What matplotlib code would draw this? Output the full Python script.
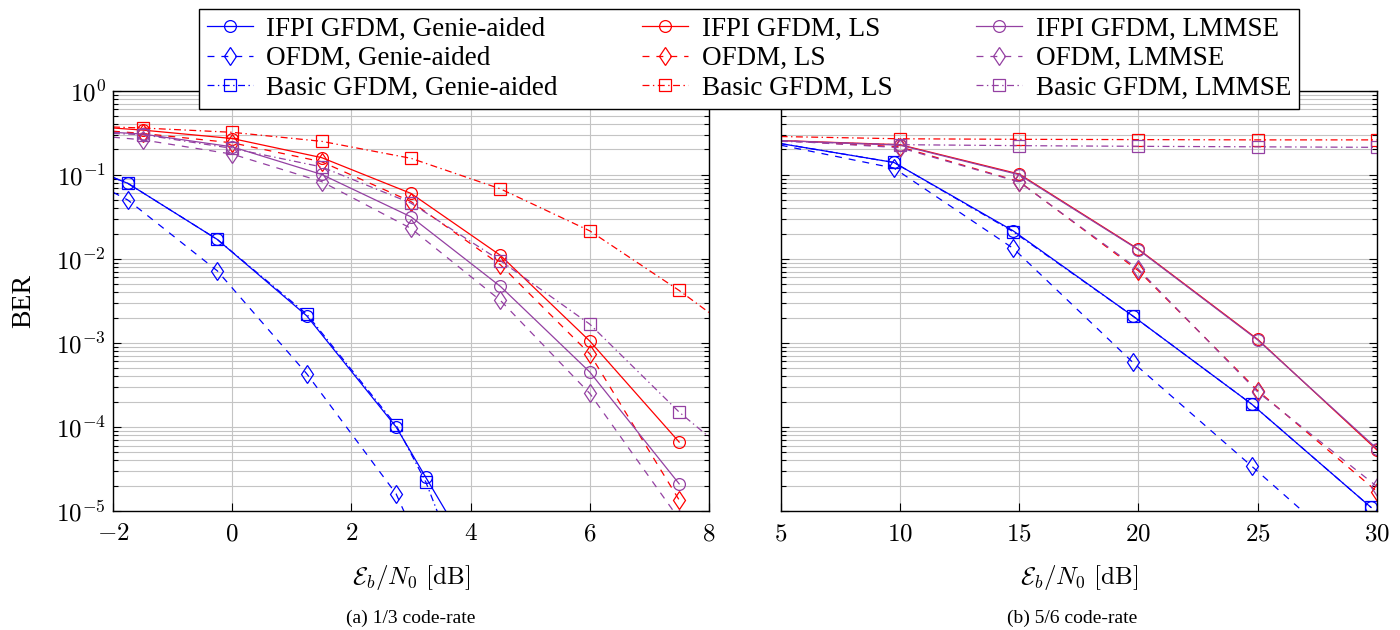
import numpy as np
import matplotlib
matplotlib.use('Agg')
import matplotlib.pyplot as plt
from matplotlib.ticker import FixedLocator, FuncFormatter, LogLocator, NullFormatter

# ======================== fonts ========================
plt.rcParams['font.family'] = ['Liberation Serif', 'DejaVu Serif']
plt.rcParams['mathtext.fontset'] = 'cm'
plt.rcParams['lines.scale_dashes'] = False

# ======================== data ========================
# (a) 1/3 code-rate
x_a_gen = [-2, -1.75, -0.25, 1.25, 2.75, 3.25, 3.75]
ifpi_gen_a = [0.093, 0.079, 0.017, 0.0021, 1.0e-4, 2.5e-5, 6.3e-6]
ofdm_gen_a = [0.062, 0.050, 0.0072, 4.3e-4, 1.6e-5, 2.6e-6, 4e-7]
basic_gen_a = [0.093, 0.079, 0.017, 0.0022, 1.05e-4, 2.2e-5, 2.7e-6]

x_a = [-2, -1.5, 0, 1.5, 3, 4.5, 6, 7.5, 8]
ifpi_ls_a = [0.36, 0.34, 0.27, 0.16, 0.060, 0.011, 1.05e-3, 6.6e-5, np.nan]
ofdm_ls_a = [0.33, 0.31, 0.24, 0.143, 0.048, 0.0085, 7.4e-4, 1.35e-5, np.nan]
basic_ls_a = [0.37, 0.36, 0.32, 0.25, 0.157, 0.068, 0.0215, 0.0042, 0.0023]
ifpi_lmmse_a = [0.32, 0.305, 0.215, 0.101, 0.0316, 0.0047, 4.5e-4, 2.1e-5, np.nan]
ofdm_lmmse_a = [0.28, 0.26, 0.176, 0.083, 0.023, 0.0032, 2.5e-4, 8e-6, np.nan]
basic_lmmse_a = [0.31, 0.30, 0.206, 0.124, 0.046, 0.0095, 1.67e-3, 1.5e-4, 7.6e-5]

# (b) 5/6 code-rate
x_b_gen = [5, 9.75, 14.75, 19.75, 24.75, 29.75]
ifpi_gen_b = [0.235, 0.14, 0.0215, 0.0021, 1.86e-4, 1.1e-5]
ofdm_gen_b = [0.225, 0.12, 0.0133, 5.9e-4, 3.4e-5, 1.9e-6]
basic_gen_b = [0.235, 0.14, 0.021, 0.0021, 1.86e-4, 1.1e-5]

x_b = [5, 10, 15, 20, 25, 30]
ifpi_ls_b = [0.255, 0.228, 0.102, 0.013, 0.0011, 5.3e-5]
ofdm_ls_b = [0.255, 0.215, 0.083, 0.0072, 2.7e-4, 1.7e-5]
basic_ls_b = [0.285, 0.268, 0.264, 0.262, 0.26, 0.26]
ifpi_lmmse_b = [0.255, 0.225, 0.100, 0.0128, 0.00108, 5.5e-5]
ofdm_lmmse_b = [0.255, 0.21, 0.082, 0.0075, 2.6e-4, 1.95e-5]
basic_lmmse_b = [0.25, 0.228, 0.222, 0.218, 0.215, 0.212]

labels = ['IFPI GFDM, Genie-aided', 'OFDM, Genie-aided', 'Basic GFDM, Genie-aided',
          'IFPI GFDM, LS', 'OFDM, LS', 'Basic GFDM, LS',
          'IFPI GFDM, LMMSE', 'OFDM, LMMSE', 'Basic GFDM, LMMSE']

x_ticks_a = [-2, 0, 2, 4, 6, 8]
x_ticks_b = [5, 10, 15, 20, 25, 30]

BLUE = '#0000ff'
RED = '#ff0000'
PURPLE = '#9440a2'

# line style / marker per scheme
STYLE = {
    'ifpi': dict(linestyle='-', marker='o', markersize=8.5),
    'ofdm': dict(linestyle=(0, (5, 5)), marker='d', markersize=9.5),
    'basic': dict(linestyle=(0, (5, 2.5, 1, 2.5)), marker='s', markersize=8),
}


def draw(ax, x, y, color, kind, markevery, label=None):
    ax.plot(x, y, color=color, lw=0.9, markerfacecolor='none', markeredgecolor=color,
            markeredgewidth=0.9, markevery=markevery, label=label, **STYLE[kind])


def style_axis(ax, xlim, xticks, show_ylabels):
    ax.set_yscale('log')
    ax.set_ylim(1e-5, 1)
    ax.set_xlim(*xlim)
    ax.xaxis.set_major_locator(FixedLocator(xticks))
    ax.xaxis.set_major_formatter(FuncFormatter(lambda v, p: r'$%g$' % v))
    ax.yaxis.set_major_locator(LogLocator(base=10, numticks=10))
    ax.yaxis.set_minor_locator(LogLocator(base=10, subs=np.arange(2, 10), numticks=20))
    ax.yaxis.set_minor_formatter(NullFormatter())
    ax.yaxis.set_major_formatter(FuncFormatter(lambda v, p: r'$10^{%d}$' % round(np.log10(v))))
    ax.grid(True, which='major', color='#c4c4c4', lw=0.8)
    ax.grid(True, which='minor', axis='y', color='#c4c4c4', lw=0.8)
    ax.set_axisbelow(True)
    ax.tick_params(which='both', direction='in', top=True, right=True, labelsize=18)
    ax.tick_params(which='major', length=6, width=0.8)
    ax.tick_params(axis='x', which='major', pad=9)
    ax.tick_params(axis='y', which='major', pad=5)
    ax.tick_params(which='minor', length=3.5, width=0.8)
    if not show_ylabels:
        ax.tick_params(labelleft=False)
    for s in ax.spines.values():
        s.set_linewidth(1.0)
    ax.set_xlabel(r'$\mathcal{E}_b/N_0\ [\mathrm{dB}]$', fontsize=18, labelpad=13)


fig = plt.figure(figsize=(14, 6.3), dpi=100)
ax1 = fig.add_axes([0.0807, 0.189, 0.4257, 0.667])
ax2 = fig.add_axes([0.5576, 0.189, 0.4260, 0.667])

# ---- (a) ----
mk_gen = list(range(1, 7))
mk = list(range(1, 8))
draw(ax1, x_a_gen, ifpi_gen_a, BLUE, 'ifpi', mk_gen, labels[0])
draw(ax1, x_a_gen, ofdm_gen_a, BLUE, 'ofdm', mk_gen, labels[1])
draw(ax1, x_a_gen, basic_gen_a, BLUE, 'basic', mk_gen, labels[2])
draw(ax1, x_a, ifpi_ls_a, RED, 'ifpi', mk, labels[3])
draw(ax1, x_a, ofdm_ls_a, RED, 'ofdm', mk, labels[4])
draw(ax1, x_a, basic_ls_a, RED, 'basic', mk, labels[5])
draw(ax1, x_a, ifpi_lmmse_a, PURPLE, 'ifpi', mk, labels[6])
draw(ax1, x_a, ofdm_lmmse_a, PURPLE, 'ofdm', mk, labels[7])
draw(ax1, x_a, basic_lmmse_a, PURPLE, 'basic', mk, labels[8])
style_axis(ax1, (-2, 8), x_ticks_a, True)
ax1.set_ylabel('BER', fontsize=20, labelpad=14)

# ---- (b) ----
mk_b = list(range(1, 6))
draw(ax2, x_b_gen, ifpi_gen_b, BLUE, 'ifpi', mk_b)
draw(ax2, x_b_gen, ofdm_gen_b, BLUE, 'ofdm', mk_b)
draw(ax2, x_b_gen, basic_gen_b, BLUE, 'basic', mk_b)
draw(ax2, x_b, ifpi_ls_b, RED, 'ifpi', mk_b)
draw(ax2, x_b, ofdm_ls_b, RED, 'ofdm', mk_b)
draw(ax2, x_b, basic_ls_b, RED, 'basic', mk_b)
draw(ax2, x_b, ifpi_lmmse_b, PURPLE, 'ifpi', mk_b)
draw(ax2, x_b, ofdm_lmmse_b, PURPLE, 'ofdm', mk_b)
draw(ax2, x_b, basic_lmmse_b, PURPLE, 'basic', mk_b)
style_axis(ax2, (5, 30), x_ticks_b, False)

# ---- captions ----
fig.text(0.293, 0.019, '(a) 1/3 code-rate', ha='center', va='center', fontsize=14)
fig.text(0.766, 0.019, '(b) 5/6 code-rate', ha='center', va='center', fontsize=14)

# ---- shared legend on top ----
handles, labs = ax1.get_legend_handles_labels()
leg = fig.legend(handles, labs, ncol=3, loc='upper center', bbox_to_anchor=(0.535, 0.986),
                 fontsize=19.5, frameon=True, fancybox=False, edgecolor='black', framealpha=1,
                 handlelength=1.7, columnspacing=3.1, handletextpad=0.5,
                 labelspacing=0.16, borderpad=0.3, borderaxespad=0)
leg.get_frame().set_linewidth(1.0)

fig.savefig('out.png', dpi=100)
